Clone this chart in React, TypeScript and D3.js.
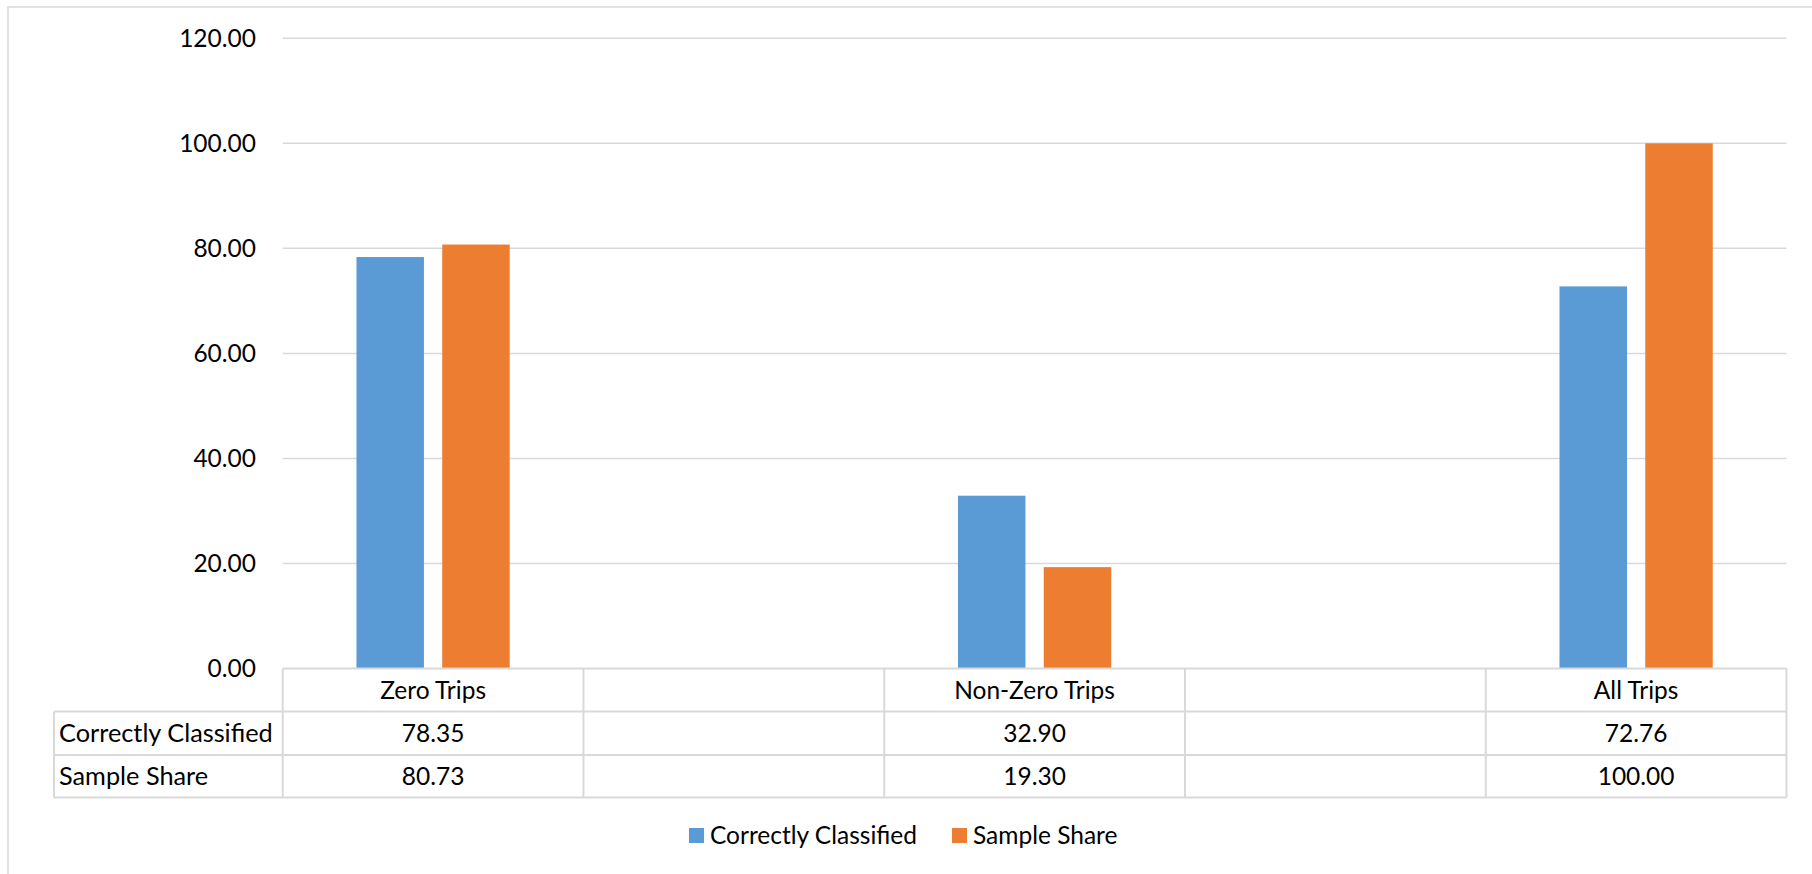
import React from "react";
import * as d3 from "d3";

// Categories of the data table (blank columns separate the groups)
const categories: string[] = ["Zero Trips", "", "Non-Zero Trips", "", "All Trips"];
const correctlyClassified: (number | null)[] = [78.35, null, 32.9, null, 72.76];
const sampleShare: (number | null)[] = [80.73, null, 19.3, null, 100.0];
const seriesNames: string[] = ["Correctly Classified", "Sample Share"];
const seriesColors: string[] = ["#5B9BD5", "#ED7D31"];
const yTicks: number[] = [0, 20, 40, 60, 80, 100, 120];

const W = 1812;
const H = 874;
const FONT = "Lato, 'Open Sans', sans-serif";
const FS = 24.5;
const GRID = "#D9D9D9";

export default function App() {
  const plotLeft = 282.7;
  const plotRight = 1786.5;
  const plotTop = 38.3;
  const plotBottom = 668.5;
  const tableLeft = 54;
  const rowLines = [plotBottom, 711.5, 755, 797.5];

  const x = d3
    .scaleBand<number>()
    .domain(categories.map((_, i) => i))
    .range([plotLeft, plotRight])
    .padding(0);

  const x1 = d3
    .scaleBand<number>()
    .domain([0, 1])
    .range([0, x.bandwidth()])
    .paddingInner(0.213)
    .paddingOuter(0.86);

  const y = d3.scaleLinear().domain([0, 120]).range([plotBottom, plotTop]);

  const series = [correctlyClassified, sampleShare];
  const fmt = d3.format(".2f");

  const colEdges = categories.map((_, i) => x(i) as number).concat([plotRight]);

  const legendY = 835.5;
  const legendItems = [
    { sx: 689, tx: 710 },
    { sx: 952, tx: 973 },
  ];

  return (
    <svg
      width={W}
      height={H}
      style={{ position: "absolute", left: 0, top: 0, background: "#fff" }}
      fontFamily={FONT}
    >
      {/* chart area border */}
      <rect x={8} y={7} width={W + 20} height={H + 20} fill="#fff" stroke={GRID} strokeWidth={1.5} />

      {/* gridlines and y tick labels */}
      {yTicks.map((t) => (
        <g key={t}>
          {t !== 0 && (
            <line x1={plotLeft} x2={plotRight} y1={y(t)} y2={y(t)} stroke={GRID} strokeWidth={1.5} />
          )}
          <text
            x={256}
            y={y(t)}
            dy="0.35em"
            textAnchor="end"
            fontSize={FS}
            fill="#000"
          >
            {fmt(t)}
          </text>
        </g>
      ))}

      {/* bars */}
      {series.map((vals, s) =>
        vals.map((v, i) =>
          v == null ? null : (
            <rect
              key={`${s}-${i}`}
              x={(x(i) as number) + (x1(s) as number)}
              y={y(v)}
              width={x1.bandwidth()}
              height={y(0) - y(v)}
              fill={seriesColors[s]}
            />
          )
        )
      )}

      {/* data table */}
      <g stroke={GRID} strokeWidth={2} fill="none">
        <line x1={plotLeft} x2={plotRight} y1={rowLines[0]} y2={rowLines[0]} />
        <line x1={tableLeft} x2={plotRight} y1={rowLines[1]} y2={rowLines[1]} />
        <line x1={tableLeft} x2={plotRight} y1={rowLines[2]} y2={rowLines[2]} />
        <line x1={tableLeft} x2={plotRight} y1={rowLines[3]} y2={rowLines[3]} />
        <line x1={tableLeft} x2={tableLeft} y1={rowLines[1]} y2={rowLines[3]} />
        {colEdges.map((cx, i) => (
          <line key={i} x1={cx} x2={cx} y1={rowLines[0]} y2={rowLines[3]} />
        ))}
      </g>

      {/* category header row */}
      {categories.map((c, i) => (
        <text
          key={`h${i}`}
          x={(x(i) as number) + x.bandwidth() / 2}
          y={(rowLines[0] + rowLines[1]) / 2}
          dy="0.35em"
          textAnchor="middle"
          fontSize={FS}
        >
          {c}
        </text>
      ))}

      {/* series rows */}
      {series.map((vals, s) => (
        <g key={`r${s}`}>
          <text
            x={59}
            y={(rowLines[s + 1] + rowLines[s + 2]) / 2}
            dy="0.35em"
            fontSize={25.3}
          >
            {seriesNames[s]}
          </text>
          {vals.map((v, i) =>
            v == null ? null : (
              <text
                key={i}
                x={(x(i) as number) + x.bandwidth() / 2}
                y={(rowLines[s + 1] + rowLines[s + 2]) / 2}
                dy="0.35em"
                textAnchor="middle"
                fontSize={FS}
              >
                {fmt(v)}
              </text>
            )
          )}
        </g>
      ))}

      {/* legend */}
      {legendItems.map((li, s) => (
        <g key={`l${s}`}>
          <rect x={li.sx} y={legendY - 7.5} width={15} height={15} fill={seriesColors[s]} />
          <text x={li.tx} y={legendY} dy="0.35em" fontSize={FS}>
            {seriesNames[s]}
          </text>
        </g>
      ))}
    </svg>
  );
}
